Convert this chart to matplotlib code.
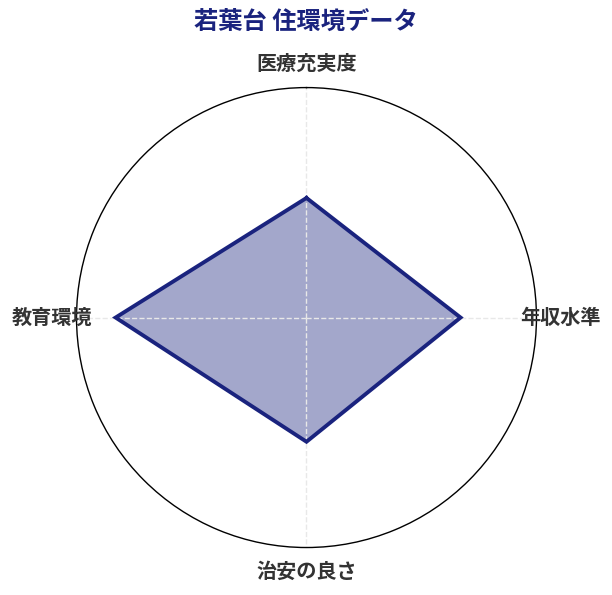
import numpy as np
import matplotlib.pyplot as plt

plt.rcParams['font.family'] = ['Noto Sans CJK JP', 'DejaVu Sans']

title = "若葉台 住環境データ"
categories = ["医療充実度", "年収水準", "治安の良さ", "教育環境"]
values = [52, 67, 54, 83]
r_max = 100

navy = "#1a237e"

fig = plt.figure(figsize=(6.12, 5.95), dpi=100)
ax = fig.add_axes([0.125, 0.0798, 0.7516, 0.773], projection="polar")
ax.set_theta_zero_location("N")
ax.set_theta_direction(-1)

angles = np.linspace(0, 2 * np.pi, len(categories), endpoint=False)
a_closed = np.concatenate([angles, angles[:1]])
v_closed = values + values[:1]

ax.fill(a_closed, v_closed, color=navy, alpha=0.4, lw=0)
ax.plot(a_closed, v_closed, color=navy, lw=2.8, solid_joinstyle="miter")

ax.set_ylim(0, r_max)
ax.set_yticks([])
ax.set_xticks(angles)
ax.set_xticklabels([])
ax.xaxis.grid(True, color="#e8e8e8", linestyle="--", lw=1)
ax.spines["polar"].set_color("black")
ax.spines["polar"].set_linewidth(1)

for ang, lab in zip(angles, categories):
    ax.text(ang, r_max * 1.105, lab, ha="center", va="center",
            fontsize=14.5, fontweight="bold", color="#333333")

fig.text(0.5, 0.964, title, ha="center", va="center", fontsize=17.5,
         fontweight="bold", color=navy)

fig.savefig("out.png", dpi=100)
